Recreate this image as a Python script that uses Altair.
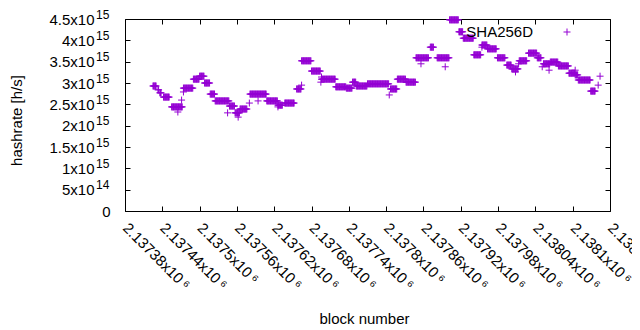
import altair as alt
import pandas as pd

# plateaus of hashrate (units of 1e15 h/s) over block ranges [start, end)
seg_start = [2137425, 2137433, 2137436, 2137442, 2137455, 2137474, 2137490, 2137500, 2137508, 2137517,
             2137525, 2137548, 2137557, 2137565, 2137581, 2137608, 2137626, 2137637, 2137656, 2137664,
             2137680, 2137696, 2137719, 2137736, 2137746, 2137752, 2137770, 2137807, 2137818, 2137832,
             2137848, 2137871, 2137882, 2137902, 2137917, 2137924, 2137941, 2137954, 2137963, 2137979,
             2137994, 2138002, 2138014, 2138029, 2138043, 2138053, 2138064, 2138077, 2138094, 2138104,
             2138109, 2138129]
seg_end = [2137431, 2137435, 2137439, 2137452, 2137473, 2137490, 2137500, 2137508, 2137517, 2137525,
           2137548, 2137557, 2137565, 2137577, 2137608, 2137626, 2137634, 2137653, 2137664, 2137680,
           2137695, 2137719, 2137736, 2137746, 2137752, 2137770, 2137805, 2137818, 2137832, 2137848,
           2137869, 2137877, 2137902, 2137917, 2137924, 2137941, 2137953, 2137963, 2137978, 2137992,
           2138002, 2138013, 2138027, 2138043, 2138050, 2138064, 2138077, 2138094, 2138104, 2138109,
           2138129, 2138137]
seg_value = [2.93, 2.84, 2.77, 2.67, 2.44, 2.88, 3.09, 3.16, 3.00, 2.74,
             2.58, 2.46, 2.30, 2.39, 2.74, 2.58, 2.48, 2.53, 2.86, 3.52,
             3.28, 3.09, 2.91, 2.88, 3.02, 2.93, 2.98, 2.86, 3.09, 3.02,
             3.59, 3.84, 3.59, 4.48, 4.20, 4.05, 3.66, 3.89, 3.80, 3.59,
             3.42, 3.33, 3.52, 3.70, 3.59, 3.45, 3.49, 3.40, 3.23, 3.19,
             3.07, 2.81]

# isolated blocks
out_block = [2137465, 2137471, 2137474, 2137545, 2137562, 2137580, 2137594, 2137626, 2137664, 2137695,
             2137696, 2137805, 2137856, 2137895, 2137954, 2138008, 2138013, 2138051, 2138062, 2138104,
             2138141, 2138144]
out_value = [2.32, 2.60, 2.79, 2.30, 2.20, 2.53, 2.58, 2.44, 2.95, 3.02,
             3.14, 2.72, 3.45, 3.38, 3.84, 3.26, 3.45, 3.38, 3.30, 3.30,
             2.95, 3.16]

x_ticks = [2137380, 2137440, 2137500, 2137560, 2137620, 2137680, 2137740,
           2137800, 2137860, 2137920, 2137980, 2138040, 2138100, 2138160]
x_tick_labels = ["2.13738x10\u2009⁶", "2.13744x10\u2009⁶", "2.1375x10\u2009⁶", "2.13756x10\u2009⁶",
                 "2.13762x10\u2009⁶", "2.13768x10\u2009⁶", "2.13774x10\u2009⁶", "2.1378x10\u2009⁶",
                 "2.13786x10\u2009⁶", "2.13792x10\u2009⁶", "2.13798x10\u2009⁶", "2.13804x10\u2009⁶",
                 "2.1381x10\u2009⁶", "2.13816x10\u2009⁶"]
y_ticks = [0, 5e14, 1e15, 1.5e15, 2e15, 2.5e15, 3e15, 3.5e15, 4e15, 4.5e15]
y_tick_mantissa = ["", "5x10", "1x10", "1.5x10", "2x10", "2.5x10", "3x10", "3.5x10", "4x10", "4.5x10"]
y_tick_exponent = ["", "14", "15", "15", "15", "15", "15", "15", "15", "15"]
y_zero_label = "0"
series_name = ["SHA256D"]

blocks, rates = [], []
for s, e, v in zip(seg_start, seg_end, seg_value):
    for b in range(s, e):
        blocks.append(b)
        rates.append(v * 1e15)
df_main = pd.DataFrame({"block": blocks, "hashrate": rates})
df_out = pd.DataFrame({"block": out_block, "hashrate": [v * 1e15 for v in out_value]})
df_key = pd.DataFrame({"name": series_name})
df_exp = pd.DataFrame({"hashrate": y_ticks, "exp": y_tick_exponent})

COLOR = "#9400D3"
FONT = "Liberation Sans"
PLUS = "M-1,0L1,0M0,-1L0,1"

xscale = alt.Scale(domain=[x_ticks[0], x_ticks[-1]], nice=False, zero=False)
yscale = alt.Scale(domain=[0, 4.5e15], nice=False)


def lab_expr(vals, labs):
    v = "[" + ",".join(repr(float(a)) for a in vals) + "]"
    l = "[" + ",".join("'" + a + "'" for a in labs) + "]"
    return f"{l}[indexof({v}, datum.value)]"


pts = dict(shape=PLUS, size=49, filled=False, strokeWidth=1, color=COLOR, opacity=1)

main = alt.Chart(df_main).mark_point(**pts).encode(
    x=alt.X("block:Q", scale=xscale, axis=alt.Axis(
        orient="bottom", values=x_ticks, labelExpr=lab_expr(x_ticks, x_tick_labels),
        offset=-5, tickSize=5, domain=False, grid=False, labelAngle=45, labelAlign="left",
        labelBaseline="middle", labelPadding=14, labelOverlap=False, labelFlush=False,
        title="block number", titleX=239, titleY=117, titleBaseline="alphabetic")),
    y=alt.Y("hashrate:Q", scale=yscale, axis=alt.Axis(
        orient="left", values=y_ticks, labelExpr=lab_expr(y_ticks, y_tick_mantissa),
        offset=-5, tickSize=5, domain=False, grid=False, labelPadding=31, labelOverlap=False,
        labelFlush=False, title="hashrate [h/s]", titleX=-114, titleY=101,
        titleBaseline="middle")),
)

extra = alt.Chart(df_out).mark_point(**pts).encode(
    x=alt.X("block:Q", scale=xscale, axis=alt.Axis(
        orient="top", values=x_ticks, labels=False, offset=-5, tickSize=5, domain=False,
        grid=False, title=None)),
    y=alt.Y("hashrate:Q", scale=yscale, axis=alt.Axis(
        orient="right", values=y_ticks, labels=False, offset=-5, tickSize=5, domain=False,
        grid=False, title=None)),
)

exps = alt.Chart(df_exp).mark_text(
    align="left", baseline="middle", font=FONT, fontSize=12, color="black", dy=-4.5
).encode(text="exp:N", x=alt.value(-29), y=alt.Y("hashrate:Q", scale=yscale, axis=alt.Axis(
    orient="left", values=[y_ticks[0]], labelExpr=f"'{y_zero_label}'", offset=-5, tickSize=5,
    domain=False, grid=False, labelPadding=15, labelFlush=False, title=None)))

key_text = alt.Chart(df_key).mark_text(
    align="right", baseline="middle", font=FONT, fontSize=15, color="black"
).encode(text="name:N", x=alt.value(408), y=alt.value(13))
key_pt = alt.Chart(df_key).mark_point(**pts).encode(x=alt.value(442), y=alt.value(13))

chart = alt.layer(main, extra, exps, key_text, key_pt).resolve_axis(
    x="independent", y="independent"
).properties(
    width=485, height=192,
    autosize=alt.AutoSizeParams(type="none"),
    padding={"left": 117, "top": 11, "right": 22, "bottom": 125},
).configure_view(stroke="black", strokeWidth=1).configure_axis(
    labelFont=FONT, labelFontSize=15, labelColor="black", tickColor="black",
    titleFont=FONT, titleFontSize=15, titleColor="black", titleFontWeight="normal",
)

chart.save("out.html", embed_options={"renderer": "svg", "actions": False})
